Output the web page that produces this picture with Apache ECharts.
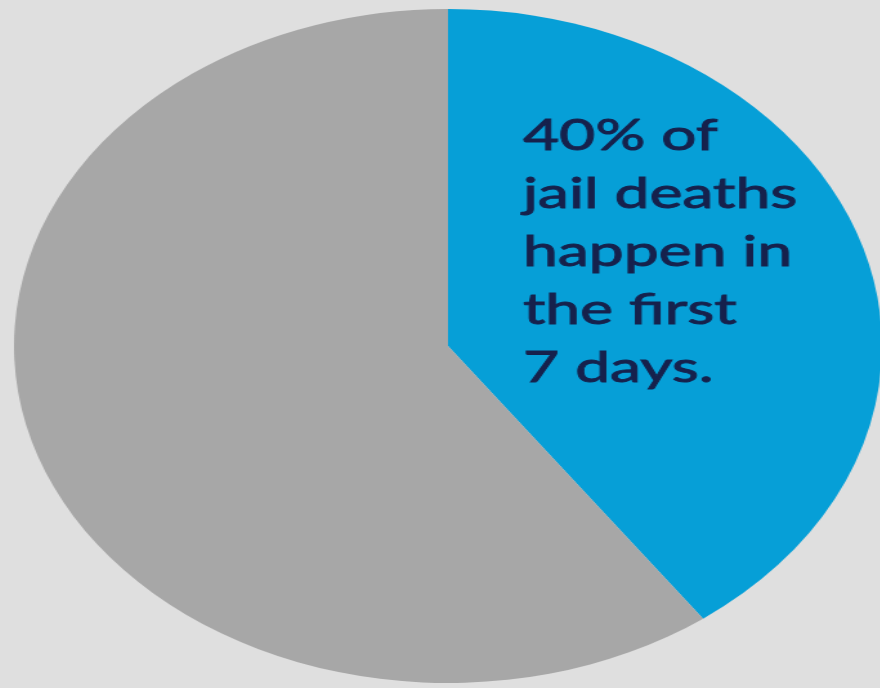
<!DOCTYPE html>
<html>
<head>
<meta charset="utf-8">
<script src="https://cdn.jsdelivr.net/npm/echarts@6/dist/echarts.min.js"></script>
<style>
html,body{margin:0;padding:0;width:880px;height:688px;overflow:hidden;background:#dfdfdf;}
#wrap{position:relative;width:880px;height:688px;overflow:hidden;background:#dfdfdf;}
#chart{position:absolute;left:5px;top:0;width:688px;height:688px;transform-origin:0 0;}
</style>
</head>
<body>
<div id="wrap"><div id="chart"></div></div>
<script>
const categories = ['First 7 days', 'After first 7 days'];
const values = [40, 60];
const colors = ['#069fd7', '#a7a7a7'];
const annotationLines = ['40% of', 'jail deaths', 'happen in', 'the first', '7 days.'];

const S = 434 / 337; // horizontal stretch to make the pie elliptical
const TEXT_STRETCH = 1.45;
const el = document.getElementById('chart');
el.style.transform = 'scaleX(' + S + ')';
const chart = echarts.init(el, null, {width: 688, height: 688});
chart.setOption({
  animation: false,
  backgroundColor: 'transparent',
  series: [{
    type: 'pie',
    z: 1,
    center: [344, 346],
    radius: [0, 337],
    startAngle: 90,
    clockwise: true,
    label: {show: false},
    labelLine: {show: false},
    emphasis: {disabled: true},
    itemStyle: {borderWidth: 0},
    data: categories.map((c, i) => ({name: c, value: values[i], itemStyle: {color: colors[i]}}))
  }],
  graphic: {
    elements: [{
      type: 'text',
      z: 100,
      x: (523 - 5) / S,
      y: 107,
      scaleX: TEXT_STRETCH / S,
      style: {
        text: annotationLines.join('\n'),
        font: '43px Lato',
        lineHeight: 58,
        fill: '#16214c',
        stroke: '#16214c',
        lineWidth: 0.9,
        verticalAlign: 'top',
        align: 'left'
      }
    }]
  }
});
</script>
</body>
</html>
